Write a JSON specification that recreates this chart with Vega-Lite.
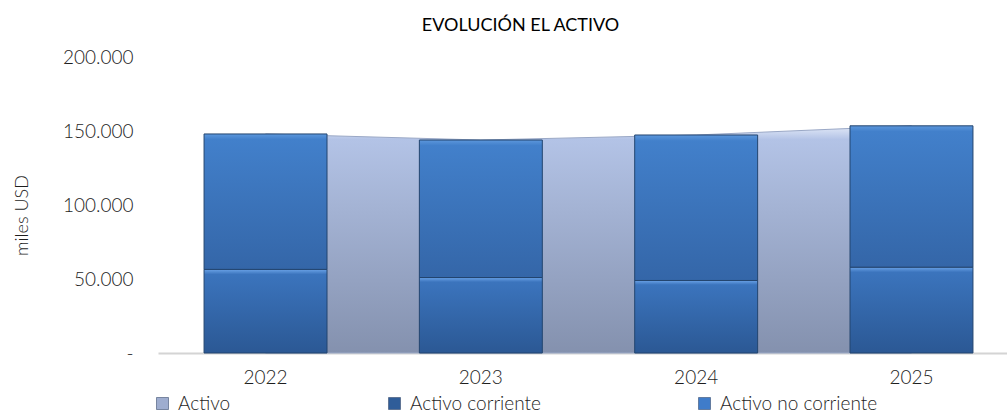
{
  "$schema": "https://vega.github.io/schema/vega-lite/v6.json",
  "autosize": {"type": "none"},
  "padding": {"left": 158, "top": 57, "right": 0, "bottom": 59},
  "width": 849,
  "height": 296,
  "background": "white",
  "title": {
    "text": "EVOLUCIÓN EL ACTIVO",
    "anchor": "middle",
    "dx": -62,
    "dy": 26,
    "offset": 25,
    "baseline": "alphabetic",
    "font": "Lato",
    "fontSize": 18,
    "fontWeight": "normal",
    "color": "#000000"
  },
  "datasets": {
    "activo": [
      {"anio": "2022", "corriente": 56500, "total": 148000},
      {"anio": "2023", "corriente": 51000, "total": 143900},
      {"anio": "2024", "corriente": 49000, "total": 147300},
      {"anio": "2025", "corriente": 58000, "total": 153500}
    ],
    "series": [
      {"serie": "Activo"},
      {"serie": "Activo corriente"},
      {"serie": "Activo no corriente"}
    ]
  },
  "data": {"name": "activo"},
  "encoding": {
    "x": {
      "field": "anio",
      "type": "nominal",
      "sort": null,
      "scale": {"paddingInner": 0.429, "paddingOuter": 0.186, "align": 0.575},
      "axis": {
        "title": null,
        "labelAngle": 0,
        "ticks": false,
        "labelPadding": 15,
        "labelFont": "Lato",
        "labelFontSize": 19,
        "labelFontWeight": 300,
        "labelColor": "#1e1e1e",
        "domainColor": "#d4d4d4",
        "domainWidth": 2
      }
    }
  },
  "layer": [
    {
      "mark": {
        "type": "area",
        "fill": {
          "gradient": "linear", "x1": 0, "y1": 0, "x2": 0, "y2": 1,
          "stops": [
            {"offset": 0, "color": "#e3eaf8"},
            {"offset": 0.06, "color": "#b3c3e6"},
            {"offset": 1, "color": "#8491ae"}
          ]
        },
        "stroke": "#9aa8c6",
        "strokeWidth": 1
      },
      "encoding": {
        "y": {
          "field": "total",
          "type": "quantitative",
          "scale": {"domain": [0, 200000], "nice": false, "zero": true},
          "axis": {
            "title": "miles USD",
            "titleFont": "Lato",
            "titleFontSize": 18,
            "titleFontWeight": 300,
            "titleColor": "#1e1e1e",
            "titleX": -131,
            "titleY": 158,
            "titleBaseline": "alphabetic",
            "values": [0, 50000, 100000, 150000, 200000],
            "labelExpr": "datum.value == 0 ? '-' : replace(format(datum.value, ','), ',', '.')",
            "labelFont": "Lato",
            "labelFontSize": 19,
            "labelFontWeight": 300,
            "labelColor": "#1e1e1e",
            "labelPadding": 25,
            "ticks": false,
            "domain": false,
            "grid": false
          }
        }
      }
    },
    {
      "mark": {
        "type": "bar",
        "fill": {
          "gradient": "linear", "x1": 0, "y1": 0, "x2": 0, "y2": 1,
          "stops": [
            {"offset": 0, "color": "#6aa2e6"},
            {"offset": 0.06, "color": "#3b74bd"},
            {"offset": 1, "color": "#2b5894"}
          ]
        },
        "stroke": "#23456f",
        "strokeWidth": 1
      },
      "encoding": {
        "y": {"field": "corriente", "type": "quantitative"}
      }
    },
    {
      "mark": {
        "type": "bar",
        "fill": {
          "gradient": "linear", "x1": 0, "y1": 0, "x2": 0, "y2": 1,
          "stops": [
            {"offset": 0, "color": "#5c97dc"},
            {"offset": 0.04, "color": "#4280cb"},
            {"offset": 1, "color": "#3466a8"}
          ]
        },
        "stroke": "#23456f",
        "strokeWidth": 1
      },
      "encoding": {
        "y": {"field": "corriente", "type": "quantitative"},
        "y2": {"field": "total"}
      }
    },
    {
      "data": {"name": "series"},
      "mark": {"type": "square", "opacity": 0},
      "encoding": {
        "x": {"value": 0},
        "y": {"value": 0},
        "color": {
          "field": "serie",
          "type": "nominal",
          "scale": {
            "domain": ["Activo", "Activo corriente", "Activo no corriente"],
            "range": ["#9eadcf", "#2f5d99", "#3f7cca"]
          },
          "legend": {
            "title": null,
            "orient": "none",
            "direction": "horizontal",
            "legendX": -5,
            "legendY": 337,
            "padding": 0,
            "gridAlign": "none",
            "columnPadding": 154,
            "symbolType": "square",
            "symbolSize": 144,
            "symbolOpacity": 1,
            "symbolStrokeColor": "#3a4f70",
            "symbolStrokeWidth": 0.6,
            "labelOffset": 6,
            "labelFont": "Lato",
            "labelFontSize": 19,
            "labelFontWeight": 300,
            "labelColor": "#1e1e1e",
            "labelLimit": 400
          }
        }
      }
    }
  ],
  "config": {"view": {"stroke": null}}
}
